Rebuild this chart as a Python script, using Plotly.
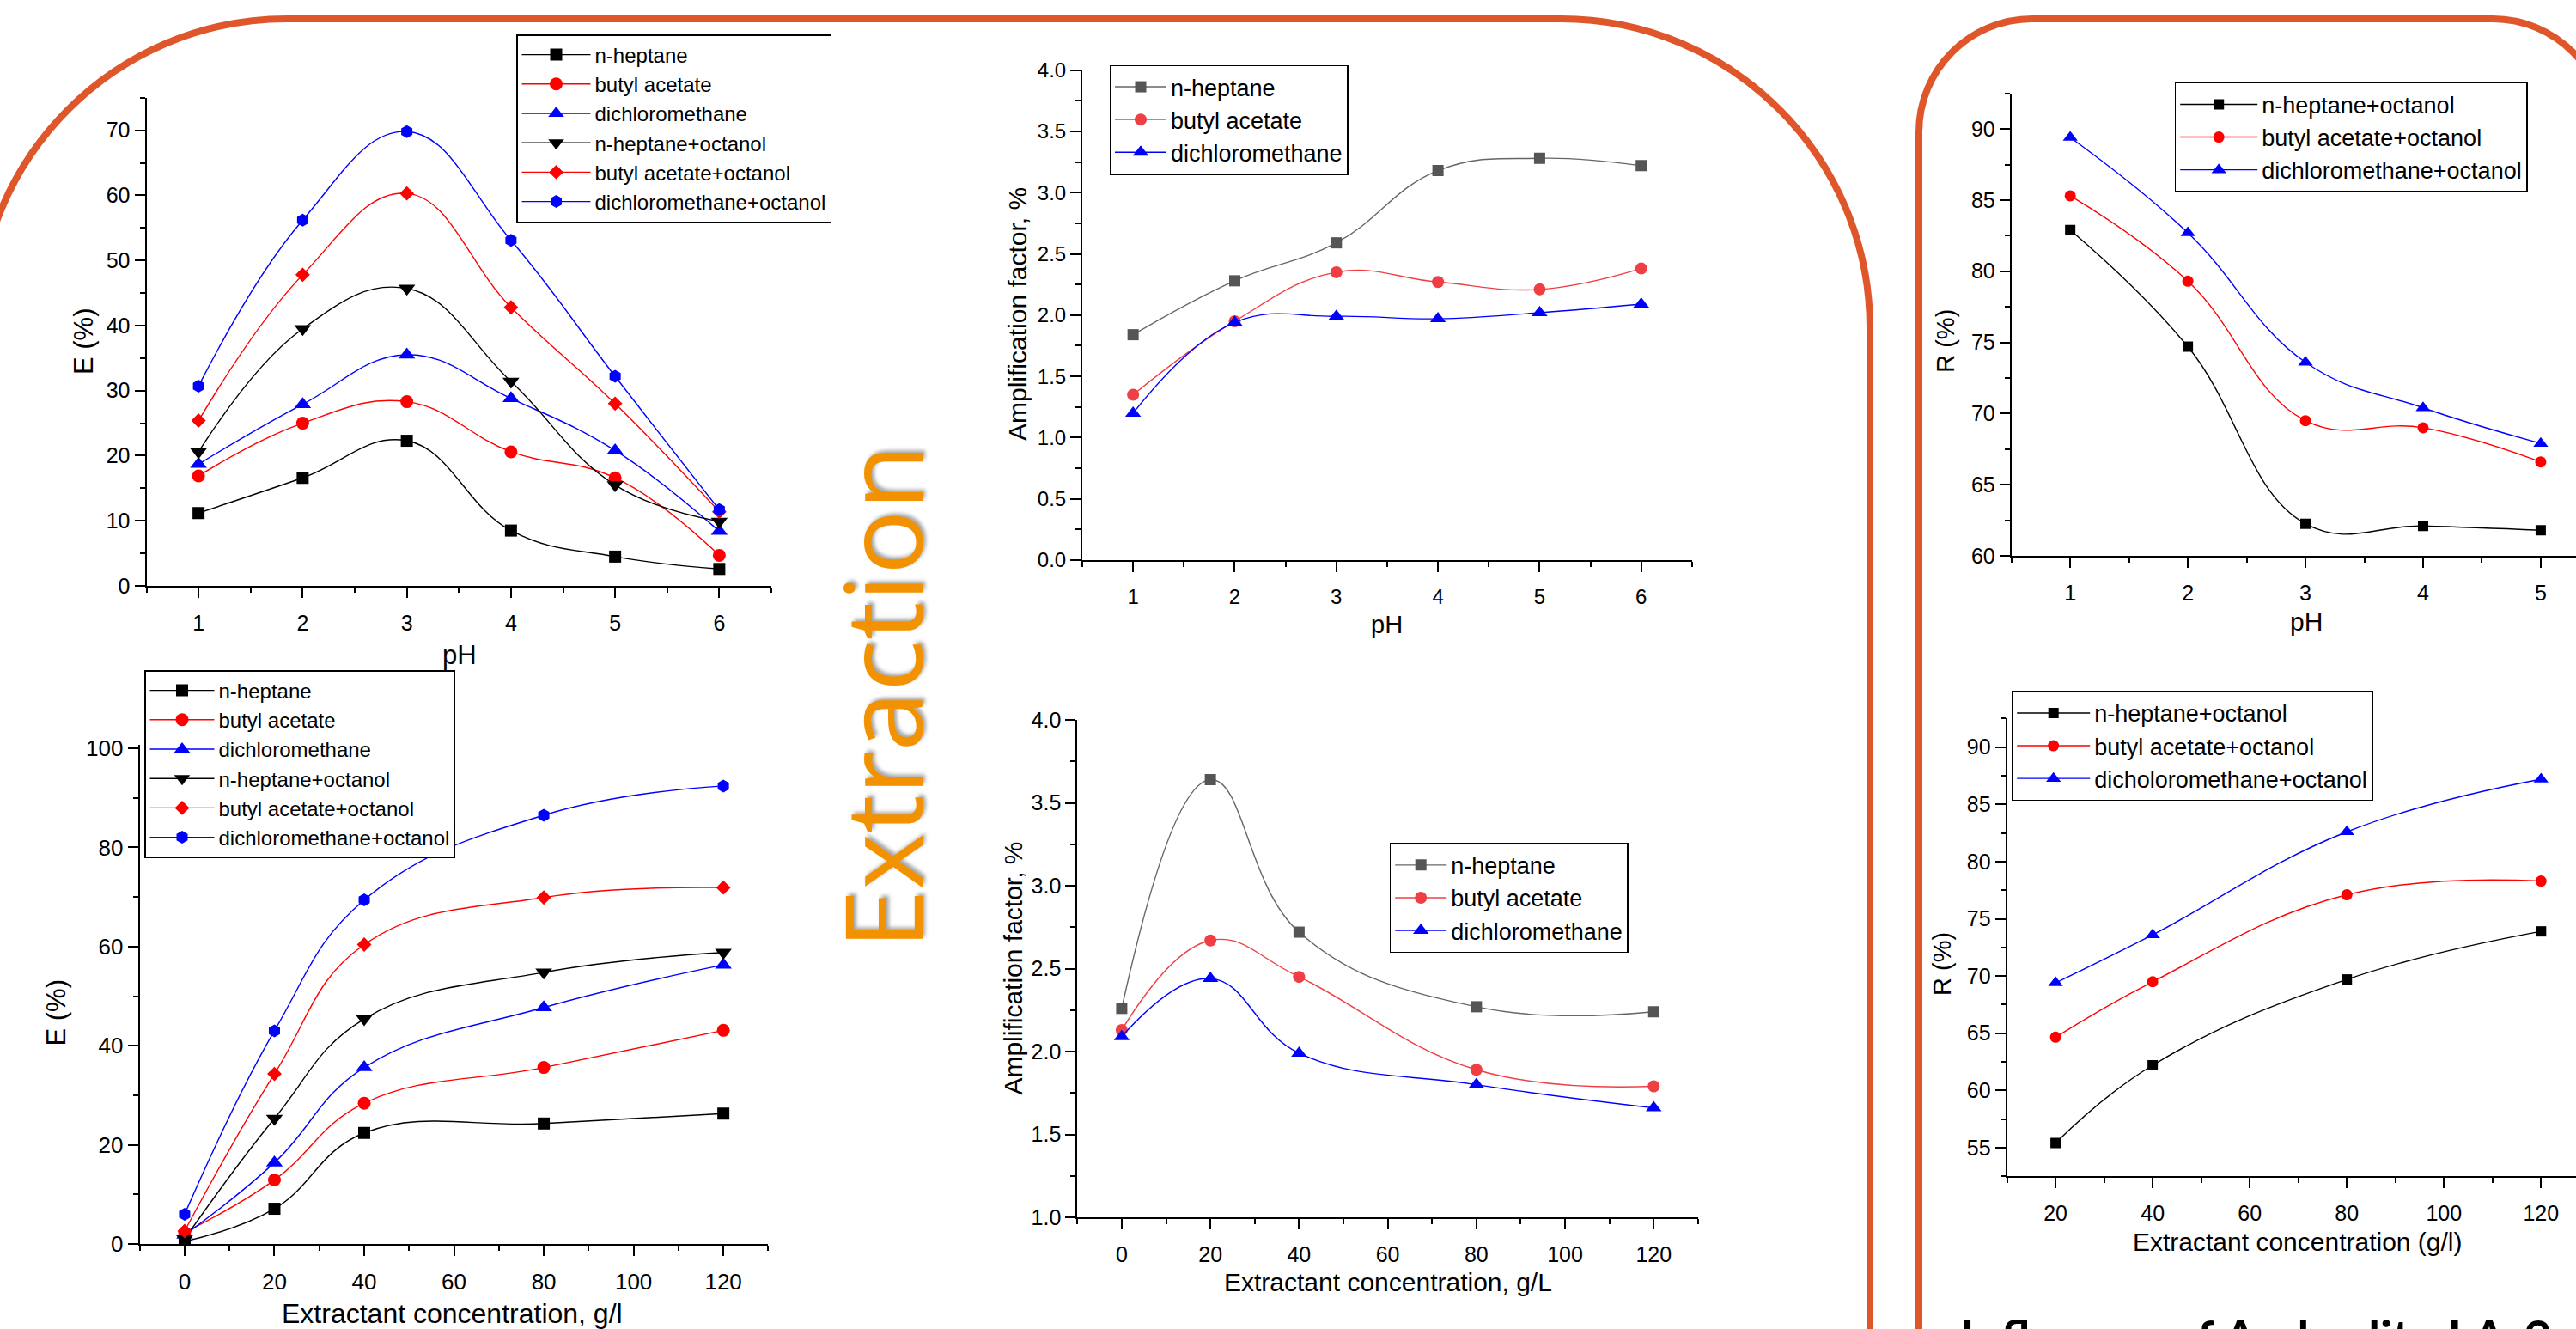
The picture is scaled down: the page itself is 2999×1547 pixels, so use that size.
import plotly.graph_objects as go

W, H = 2999, 1547

# ---------------- data ----------------
ph = [1, 2, 3, 4, 5, 6]
e_ph_heptane = [11.2, 16.6, 22.3, 8.5, 4.5, 2.6]
e_ph_butyl = [16.9, 25.0, 28.3, 20.6, 16.6, 4.7]
e_ph_dcm = [18.7, 27.9, 35.5, 28.8, 20.8, 8.4]
e_ph_heptane_oct = [20.6, 39.5, 45.7, 31.4, 15.5, 9.9]
e_ph_butyl_oct = [25.4, 47.8, 60.3, 42.8, 28.0, 11.4]
e_ph_dcm_oct = [30.7, 56.2, 69.8, 53.1, 32.2, 11.7]

conc = [0, 20, 40, 80, 120]
e_c_heptane = [0.5, 7.1, 22.4, 24.3, 26.3]
e_c_butyl = [2.3, 12.9, 28.4, 35.6, 43.1]
e_c_dcm = [1.8, 16.4, 35.6, 47.7, 56.3]
e_c_heptane_oct = [1.0, 25.3, 45.4, 54.8, 58.8]
e_c_butyl_oct = [2.6, 34.3, 60.4, 69.9, 71.9]
e_c_dcm_oct = [6.0, 43.0, 69.4, 86.5, 92.4]

af_ph_heptane = [1.84, 2.28, 2.59, 3.18, 3.28, 3.22]
af_ph_butyl = [1.35, 1.95, 2.35, 2.27, 2.21, 2.38]
af_ph_dcm = [1.20, 1.94, 1.99, 1.97, 2.02, 2.09]

af_c_heptane = [2.26, 3.64, 2.72, 2.27, 2.24]
af_c_butyl = [2.13, 2.67, 2.45, 1.89, 1.79]
af_c_dcm = [2.09, 2.44, 1.99, 1.80, 1.66]

ph_r = [1, 2, 3, 4, 5]
r_ph_heptane_oct = [82.9, 74.7, 62.25, 62.1, 61.8]
r_ph_butyl_oct = [85.3, 79.3, 69.5, 69.0, 66.6]
r_ph_dcm_oct = [89.4, 82.7, 73.6, 70.4, 67.9]

conc_r = [20, 40, 80, 120]
r_c_heptane_oct = [55.4, 62.2, 69.7, 73.9]
r_c_butyl_oct = [64.65, 69.5, 77.1, 78.3]
r_c_dcm_oct = [69.4, 73.6, 82.6, 87.2]

FONT = "Liberation Sans, Arial, sans-serif"
BLACK, RED, BLUE = "#000000", "#ff0000", "#0000ff"
GRAY, LRED = "#555555", "#ef3f45"


def px_x(x):
    return x / W


def px_y(y):
    return 1 - y / H


fig = go.Figure()


def add(name, x, y, color, symbol, size, ax, legend, lcolor=None):
    fig.add_trace(go.Scatter(
        x=x, y=y, name=name, mode="lines+markers",
        line=dict(color=lcolor or color, width=1.4, shape="spline", smoothing=1.2),
        marker=dict(color=color, symbol=symbol, size=size, line=dict(width=0)),
        xaxis="x" + ax, yaxis="y" + ax, legend=legend))


# panel 1
add("n-heptane", ph, e_ph_heptane, BLACK, "square", 14, "", "legend")
add("butyl acetate", ph, e_ph_butyl, RED, "circle", 15, "", "legend")
add("dichloromethane", ph, e_ph_dcm, BLUE, "triangle-up", 17, "", "legend")
add("n-heptane+octanol", ph, e_ph_heptane_oct, BLACK, "triangle-down", 17, "", "legend")
add("butyl acetate+octanol", ph, e_ph_butyl_oct, RED, "diamond", 13, "", "legend")
add("dichloromethane+octanol", ph, e_ph_dcm_oct, BLUE, "hexagon", 15, "", "legend")
# panel 2
add("n-heptane", conc, e_c_heptane, BLACK, "square", 14, "2", "legend2")
add("butyl acetate", conc, e_c_butyl, RED, "circle", 15, "2", "legend2")
add("dichloromethane", conc, e_c_dcm, BLUE, "triangle-up", 17, "2", "legend2")
add("n-heptane+octanol", conc, e_c_heptane_oct, BLACK, "triangle-down", 17, "2", "legend2")
add("butyl acetate+octanol", conc, e_c_butyl_oct, RED, "diamond", 13, "2", "legend2")
add("dichloromethane+octanol", conc, e_c_dcm_oct, BLUE, "hexagon", 15, "2", "legend2")
# panel 3
add("n-heptane", ph, af_ph_heptane, GRAY, "square", 13, "3", "legend3", "#666666")
add("butyl acetate", ph, af_ph_butyl, LRED, "circle", 14, "3", "legend3")
add("dichloromethane", ph, af_ph_dcm, BLUE, "triangle-up", 16, "3", "legend3")
# panel 4
add("n-heptane", conc, af_c_heptane, GRAY, "square", 13, "4", "legend4", "#666666")
add("butyl acetate", conc, af_c_butyl, LRED, "circle", 14, "4", "legend4")
add("dichloromethane", conc, af_c_dcm, BLUE, "triangle-up", 16, "4", "legend4")
# panel 5
add("n-heptane+octanol", ph_r, r_ph_heptane_oct, BLACK, "square", 12, "5", "legend5")
add("butyl acetate+octanol", ph_r, r_ph_butyl_oct, RED, "circle", 13, "5", "legend5")
add("dichloromethane+octanol", ph_r, r_ph_dcm_oct, BLUE, "triangle-up", 15, "5", "legend5")
# panel 6
add("n-heptane+octanol", conc_r, r_c_heptane_oct, BLACK, "square", 12, "6", "legend6")
add("butyl acetate+octanol", conc_r, r_c_butyl_oct, RED, "circle", 13, "6", "legend6")
add("dicholoromethane+octanol", conc_r, r_c_dcm_oct, BLUE, "triangle-up", 15, "6", "legend6")

# panel boxes in pixels (left, top, right, bottom)
boxes = {
    "": (170.5, 113.8, 898, 682),
    "2": (162.7, 867, 894.4, 1448),
    "3": (1260, 81.6, 1969.9, 652),
    "4": (1254.3, 838, 1976.9, 1417),
    "5": (2341.7, 108.7, 2999, 647),
    "6": (2336.6, 836.4, 2999, 1369.2),
}
xr = {"": [0.5, 6.5], "2": [-10, 130], "3": [0.5, 6.5], "4": [-10, 130],
      "5": [0.5, 5.3], "6": [10, 127.2]}
yr = {"": [0, 75], "2": [0, 100.7], "3": [0, 4], "4": [1, 4],
      "5": [60, 92.5], "6": [52.5, 92.5]}
xd = {"": (1, 0.5, 1), "2": (20, 10, 0), "3": (1, 0.5, 1), "4": (20, 10, 0),
      "5": (1, 0.5, 1), "6": (20, 10, 20)}
yd = {"": (10, 5, 0), "2": (20, 10, 0), "3": (0.5, 0.25, 0), "4": (0.5, 0.25, 1),
      "5": (5, 2.5, 60), "6": (5, 2.5, 55)}
tfs = {"": 25, "2": 26, "3": 24, "4": 25, "5": 25, "6": 25}

layout = {}
for k, (l, t, r, b) in boxes.items():
    common = dict(showline=True, linecolor="black", linewidth=2, ticks="outside",
                  ticklen=12, tickwidth=2, tickcolor="black", showgrid=False,
                  zeroline=False, automargin=False,
                  tickfont=dict(family=FONT, size=tfs[k], color="black"))
    dx, mx, x0 = xd[k]
    dy, my, y0 = yd[k]
    layout["xaxis" + k] = dict(
        common, domain=[px_x(l), min(1, px_x(r))], range=xr[k], dtick=dx, tick0=x0,
        anchor="y" + k, ticklabelstandoff=8,
        minor=dict(dtick=mx, tick0=x0, ticks="outside", ticklen=6, tickwidth=2, tickcolor="black"))
    ya = dict(common, domain=[px_y(b), px_y(t)], range=yr[k], dtick=dy, tick0=y0,
              anchor="x" + k,
              minor=dict(dtick=my, tick0=y0, ticks="outside", ticklen=6, tickwidth=2, tickcolor="black"))
    if k in ("3", "4"):
        ya["tickformat"] = ".1f"
    layout["yaxis" + k] = ya

# legends: (left, top, font size, item width)
legs = {"legend": (601, 40, 24, 80), "legend2": (168, 780, 24, 75),
        "legend3": (1291.5, 75.5, 27, 60), "legend4": (1617.7, 981.3, 27, 60),
        "legend5": (2531.7, 95.9, 27, 90), "legend6": (2341.7, 804.4, 27, 85)}
for name, (l, t, fs, iw) in legs.items():
    layout[name] = dict(x=px_x(l), y=px_y(t), xanchor="left", yanchor="top",
                        bordercolor="black", borderwidth=1.5, bgcolor="white",
                        font=dict(family=FONT, size=fs, color="black"),
                        itemwidth=iw, tracegroupgap=0)

ann = []


def title(text, x, y, size, angle=0):
    ann.append(dict(text=text, x=px_x(x), y=px_y(y), xref="paper", yref="paper",
                    showarrow=False, textangle=angle, xanchor="center", yanchor="middle",
                    font=dict(family=FONT, size=size, color="black")))


title("E (%)", 98, 397, 31, -90)
title("pH", 534.5, 762, 31)
title("E (%)", 64.5, 1179, 31, -90)
title("Extractant concentration, g/l", 526, 1529, 32)
title("Amplification factor, %", 1184, 366, 30, -90)
title("pH", 1614, 727, 29)
title("Amplification factor, %", 1178.6, 1127, 30, -90)
title("Extractant concentration, g/L", 1615.6, 1492, 30)
title("R (%)", 2264.8, 397, 29, -90)
title("pH", 2685, 723.5, 30)
title("R (%)", 2261, 1122, 29, -90)
title("Extractant concentration (g/l)", 2675, 1445.5, 30)

ann.append(dict(text="Extraction", x=px_x(1025), y=px_y(811), xref="paper", yref="paper",
                showarrow=False, textangle=-90, xanchor="center", yanchor="middle",
                font=dict(family="Open Sans, Noto Sans, sans-serif", size=125, color="#F39200",
                          shadow="3px 3px 4px rgba(0,0,0,0.35)")))
ann.append(dict(text="<b>Influence of Amberlite LA-2</b>", x=px_x(2280), y=px_y(1520),
                xref="paper", yref="paper", showarrow=False, xanchor="left", yanchor="top",
                font=dict(family="Lato, Open Sans, sans-serif", size=56, color="black")))

# orange frames
k = 0.5523


def P(x, y):
    return f"{px_x(x):.6f},{px_y(y):.6f}"


R = 360
big = (f"M{P(-26, 1600)} L{P(-26, 382)} "
       f"C{P(-26, 382 - k * R)} {P(334 - k * R, 22)} {P(334, 22)} "
       f"L{P(1817, 22)} "
       f"C{P(1817 + k * R, 22)} {P(2177, 382 - k * R)} {P(2177, 382)} "
       f"L{P(2177, 1600)}")
R2 = 132
small = (f"M{P(2234, 1600)} L{P(2234, 154)} "
         f"C{P(2234, 154 - k * R2)} {P(2366 - k * R2, 22)} {P(2366, 22)} "
         f"L{P(2902, 22)} "
         f"C{P(2902 + k * R2, 22)} {P(3034, 154 - k * R2)} {P(3034, 154)} "
         f"L{P(3034, 1600)}")
shapes = [dict(type="path", path=p, xref="paper", yref="paper", layer="below",
               line=dict(color="#E0562B", width=8)) for p in (big, small)]

fig.update_layout(width=W, height=H,
                  margin=dict(l=0, r=0, t=0, b=0, pad=0, autoexpand=False),
                  paper_bgcolor="white", plot_bgcolor="white",
                  annotations=ann, shapes=shapes, **layout)
fig.write_html("out.html")
